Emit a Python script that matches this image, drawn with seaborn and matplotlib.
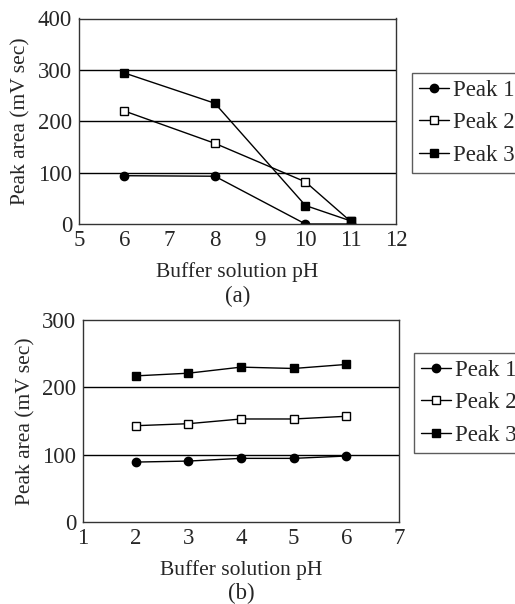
import numpy as np
import pandas as pd
import matplotlib
matplotlib.use("Agg")
import matplotlib.pyplot as plt
import seaborn as sns

sns.set_style("white")
plt.rcParams['font.family'] = ['Liberation Serif', 'DejaVu Serif']

# Panel (a)
ph_a = [6, 8, 10, 11]
peak1_a = [94, 93, 0, 0]
peak2_a = [220, 157, 82, 5]
peak3_a = [294, 235, 36, 6]

# Panel (b)
ph_b = [2, 3, 4, 5, 6]
peak1_b = [89, 90.5, 94.5, 94.5, 98]
peak2_b = [143, 146, 153, 153, 157]
peak3_b = [217, 221, 230, 228, 234]

series_names = ["Peak 1", "Peak 2", "Peak 3"]
xlabel = "Buffer solution pH"
ylabel = "Peak area (mV sec)"
captions = ["(a)", "(b)"]

styles = {
    "Peak 1": dict(marker="o", markerfacecolor="black", markersize=6),
    "Peak 2": dict(marker="s", markerfacecolor="white", markersize=5.5),
    "Peak 3": dict(marker="s", markerfacecolor="black", markersize=5.5),
}

fig = plt.figure(figsize=(5.15, 6.04), dpi=100)
W, H = 515, 604
ax_a = fig.add_axes([79 / W, 1 - 224 / H, (396 - 79) / W, (224 - 18.5) / H])
ax_b = fig.add_axes([83 / W, 1 - 522 / H, (399 - 83) / W, (522 - 320) / H])


def draw(ax, x, ys, xlim, ylim, yticks, xticks, legend_anchor, caption, cap_y):
    df = pd.DataFrame({"pH": list(x) * 3,
                       "area": [v for s in ys for v in s],
                       "Peak": [n for n in series_names for _ in x]})
    for name in series_names:
        sub = df[df["Peak"] == name]
        sns.lineplot(data=sub, x="pH", y="area", ax=ax, color="black",
                     linewidth=1.0, markeredgecolor="black", markeredgewidth=1.0,
                     label=name, **styles[name])
    ax.set_xlim(*xlim)
    ax.set_ylim(*ylim)
    ax.set_xticks(xticks)
    ax.set_yticks(yticks)
    for v in yticks[1:-1]:
        ax.axhline(v, color="black", linewidth=1.0, zorder=0)
    for sp in ax.spines.values():
        sp.set_color("#333333")
        sp.set_linewidth(1.0)
    ax.tick_params(axis="x", direction="in", length=6, width=1, labelsize=16.5, pad=4, color="#333333")
    ax.tick_params(axis="y", length=0, labelsize=16.5, pad=5)
    ax.set_xlabel(xlabel, fontsize=15.5, labelpad=8)
    ax.set_ylabel(ylabel, fontsize=15.5, labelpad=5)
    leg = ax.legend(loc="upper left", bbox_to_anchor=legend_anchor, bbox_transform=fig.transFigure,
                    frameon=True, fancybox=False, fontsize=16.5, handlelength=1.3,
                    handletextpad=0.2, borderpad=0.3, labelspacing=0.5, borderaxespad=0)
    leg.get_frame().set_edgecolor("#333333")
    leg.get_frame().set_linewidth(1.0)
    fig.text((ax.get_position().x0 + ax.get_position().x1) / 2, 1 - cap_y / H, caption,
             ha="center", va="center", fontsize=16.5)


draw(ax_a, ph_a, [peak1_a, peak2_a, peak3_a], (5, 12), (0, 400), [0, 100, 200, 300, 400],
     range(5, 13), (412 / W, 1 - 73 / H), captions[0], 296)
draw(ax_b, ph_b, [peak1_b, peak2_b, peak3_b], (1, 7), (0, 300), [0, 100, 200, 300],
     range(1, 8), (414 / W, 1 - 353 / H), captions[1], 593)

fig.savefig("out.png", dpi=100)
